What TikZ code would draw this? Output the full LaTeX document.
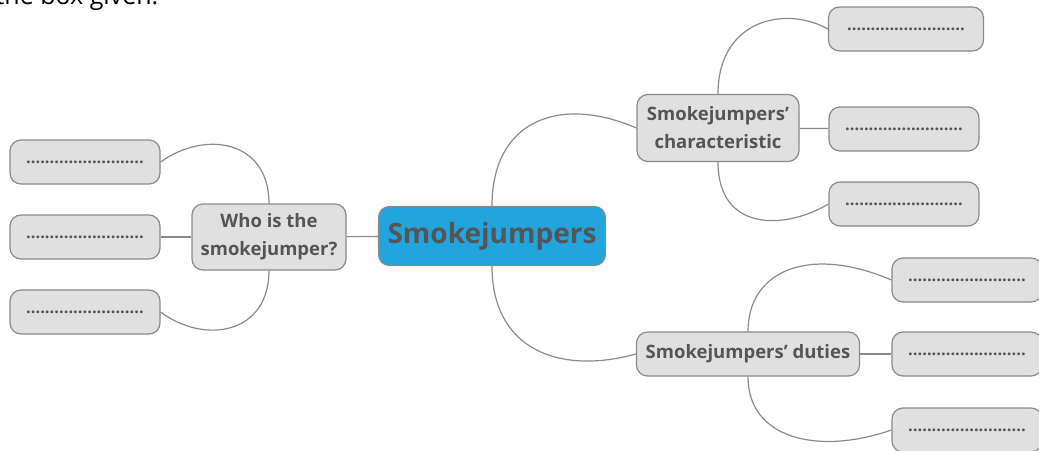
\documentclass[tikz,border=0pt]{standalone}
\usepackage{fontspec}
\setmainfont{Open Sans}
\definecolor{txtgray}{HTML}{555555}
\definecolor{boxgray}{HTML}{E0E0E0}
\definecolor{linegray}{HTML}{8A8A8A}
\definecolor{rootblue}{HTML}{22A5DD}
\begin{document}
\begin{tikzpicture}[x=1pt,y=-1pt,
  every node/.style={rounded corners=11pt,draw=linegray,line width=1.2pt,fill=boxgray,
    text=txtgray,font=\bfseries,align=center,inner sep=2pt},
  root/.style={fill=rootblue,minimum width=227pt,minimum height=59pt,font=\fontsize{28}{30}\selectfont\bfseries},
  topic/.style={minimum height=44pt,font=\fontsize{18.5}{28}\selectfont\bfseries},
  leaf/.style={minimum width=150pt,minimum height=44pt,font=\fontsize{16.5}{18}\selectfont\bfseries},
  link/.style={draw=linegray,line width=1.2pt}]
\useasboundingbox (0,0) rectangle (1039,450);
\node[draw=none,fill=none,text=black,anchor=base west,inner sep=0pt,font=\fontsize{25}{30}\selectfont] (top) at (-5,4) {the box given.};
\node[root] (sj) at (492,236) {Smokejumpers};
\node[topic,minimum width=154pt,minimum height=66pt] (who) at (269,237) {Who is the\\smokejumper?};
\node[topic,minimum width=162pt,minimum height=67pt] (chr) at (718,128) {Smokejumpers'\\characteristic};
\node[topic,minimum width=223pt] (dut) at (748,354) {Smokejumpers' duties};
\node[leaf] (w1) at (85,162) {.........................};
\node[leaf] (w2) at (85,237) {.........................};
\node[leaf] (w3) at (85,312) {.........................};
\node[leaf,minimum width=155pt] (c1) at (906,29) {.........................};
\node[leaf] (c2) at (904,129) {.........................};
\node[leaf] (c3) at (904,204) {.........................};
\node[leaf] (d1) at (967,280) {.........................};
\node[leaf] (d2) at (967,354) {.........................};
\node[leaf] (d3) at (967,430) {.........................};
\draw[link] (sj) -- (who);
\draw[link] (sj.north) .. controls (492,120) and (560,95) .. (chr.west);
\draw[link] (sj.south) .. controls (492,350) and (560,375) .. (dut.west);
\draw[link] (who.north) .. controls (269,140) and (205,130) .. (w1.east);
\draw[link] (who) -- (w2);
\draw[link] (who.south) .. controls (269,334) and (205,345) .. (w3.east);
\draw[link] (chr.north) .. controls (718,20) and (785,5) .. (c1.west);
\draw[link] (chr) -- (c2);
\draw[link] (chr.south) .. controls (718,232) and (785,230) .. (c3.west);
\draw[link] (dut.north) .. controls (748,270) and (810,245) .. (d1.west);
\draw[link] (dut) -- (d2);
\draw[link] (dut.south) .. controls (748,440) and (820,455) .. (d3.west);
\end{tikzpicture}
\end{document}
